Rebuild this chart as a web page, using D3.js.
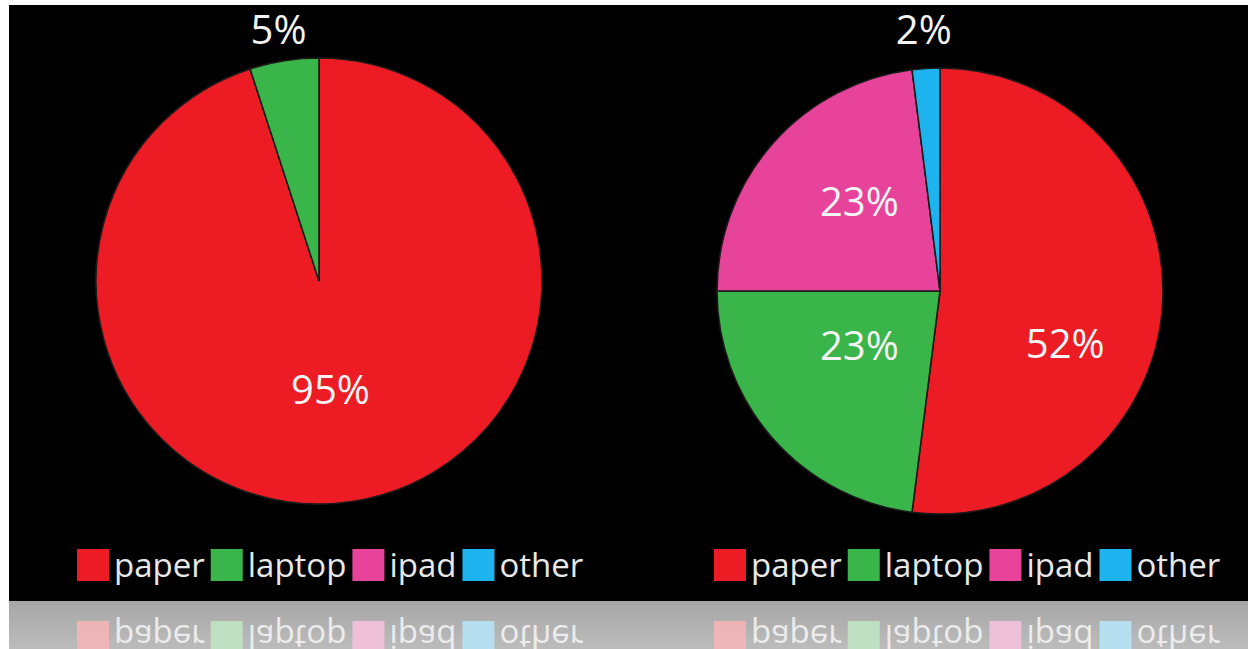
<!DOCTYPE html>
<html>
<head>
<meta charset="utf-8">
<script src="https://cdn.jsdelivr.net/npm/d3@7"></script>
<style>
  body { margin: 0; background: #fff; }
  svg { display: block; }
  text { font-family: "Open Sans", "Noto Sans", sans-serif; }
</style>
</head>
<body>
<svg id="chart" width="1248" height="649"></svg>
<script>
// data
var categories = ['paper', 'laptop', 'ipad', 'other'];
var beforeValues = [95, 5, 0, 0];
var afterValues = [52, 23, 23, 2];
var pieLabels = ['95%', '5%', '52%', '23%', '23%', '2%'];

var colorKey = {
    "paper": "#ed1c24",
    "laptop": "#3ab54a",
    "ipad": "#e8439b",
    "other": "#1cb3ef"
}

var svg = d3.select("#chart")

// background panels
svg.append("rect")
    .attr("x", 9).attr("y", 5)
    .attr("width", 1239).attr("height", 596)
    .attr("fill", "#000")

var grad = svg.append("defs").append("linearGradient")
    .attr("id", "reflectBg")
    .attr("x1", 0).attr("y1", 0).attr("x2", 0).attr("y2", 1)
grad.append("stop").attr("offset", "0%").attr("stop-color", "#a6a6a6")
grad.append("stop").attr("offset", "100%").attr("stop-color", "#bcbcbc")

svg.append("rect")
    .attr("x", 9).attr("y", 601)
    .attr("width", 1239).attr("height", 48)
    .attr("fill", "url(#reflectBg)")

var pie = d3.pie().sort(null).value(function(d) { return d.value; })
var radius = 223
var arc = d3.arc().innerRadius(0).outerRadius(radius)

// label placement tweaks (layout only)
var labelNudge = {
    "0-paper": [-6, -2],
    "0-laptop": [0, 4],
    "1-paper": [14, 46],
    "1-laptop": [3, -19],
    "1-ipad": [3, -16],
    "1-other": [0, -3]
}

var pies = [
    { values: beforeValues, cx: 319, cy: 281, legendX: 77 },
    { values: afterValues, cx: 940, cy: 291, legendX: 714 }
]

var labelIdx = 0
pies.forEach(function(p, pi) {
    var rows = categories.map(function(c, i) {
        return { cat: c, value: p.values[i] };
    })
    var slices = pie(rows).filter(function(d) { return d.data.value > 0; })

    var g = svg.append("g")
        .attr("transform", "translate(" + p.cx + "," + p.cy + ")")

    g.selectAll("path")
        .data(slices)
        .enter().append("path")
        .attr("d", arc)
        .attr("fill", function(d) { return colorKey[d.data.cat]; })
        .attr("stroke", "#1a1a1a")
        .attr("stroke-width", 1.6)

    slices.forEach(function(d) {
        var pos
        if (d.data.value < 10) {
            var mid = (d.startAngle + d.endAngle) / 2
            var lr = radius + 36
            pos = [Math.sin(mid) * lr, -Math.cos(mid) * lr]
        } else {
            pos = arc.centroid(d)
        }
        var nudge = labelNudge[pi + "-" + d.data.cat] || [0, 0]
        g.append("text")
            .attr("x", pos[0] + nudge[0])
            .attr("y", pos[1] + nudge[1])
            .attr("dy", "0.36em")
            .attr("text-anchor", "middle")
            .attr("fill", "#f4f4f4")
            .style("font-size", "40px")
            .text(pieLabels[labelIdx++])
    })

    // legend + reflection
    drawLegend(svg.append("g"), p.legendX, false)
    var refl = svg.append("g")
        .attr("transform", "translate(0,1202) scale(1,-1)")
        .attr("opacity", 0.85)
    drawLegend(refl, p.legendX, true)
})

function drawLegend(parent, x0, faded) {
    var x = x0
    var sq = 32
    categories.forEach(function(c) {
        parent.append("rect")
            .attr("x", x)
            .attr("y", 549)
            .attr("width", sq)
            .attr("height", sq)
            .attr("fill", faded ? d3.interpolateRgb(colorKey[c], "#fff")(0.68) : colorKey[c])
        x += sq + 5
        var t = parent.append("text")
            .attr("x", x)
            .attr("y", 577)
            .attr("fill", faded ? "#f6f6f6" : "#e8e8e8")
            .style("font-size", "33px")
            .text(c)
        x += t.node().getComputedTextLength() + 6
    })
}
</script>
</body>
</html>
